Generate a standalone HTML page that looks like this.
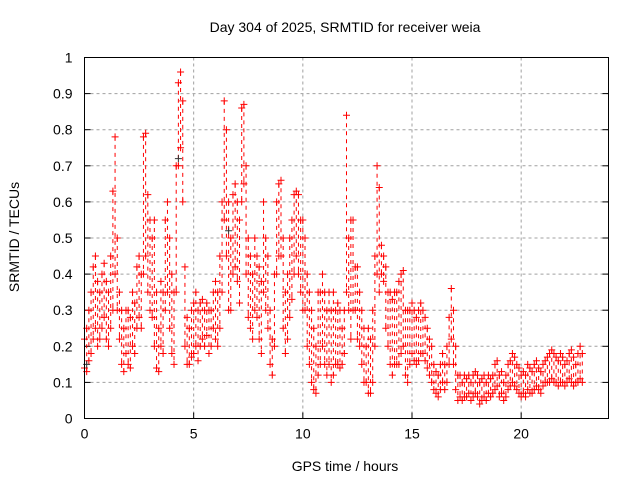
<!DOCTYPE html>
<html><head><meta charset="utf-8"><style>
html,body{margin:0;padding:0;background:#fff}
svg{display:block;font-family:"Liberation Sans",sans-serif}
</style></head><body>
<svg id="chart" width="640" height="480" viewBox="0 0 640 480" xmlns="http://www.w3.org/2000/svg">
<rect width="640" height="480" fill="#fff"/>
<text x="345" y="32" font-size="14" text-anchor="middle">Day 304 of 2025, SRMTID for receiver weia</text>
<text transform="translate(19,237) rotate(-90)" font-size="14" text-anchor="middle">SRMTID / TECUs</text>
<text x="345" y="471" font-size="14" text-anchor="middle">GPS time / hours</text>
<g id="grid"></g>
<g id="ticks"></g>
<g id="ranges"></g>
<g id="points"></g>
<rect x="84.5" y="57.5" width="524" height="361" fill="none" stroke="#000" stroke-width="1"/>
</svg>
<script>
const xTicks=[0,5,10,15,20];
const yTicks=[0,0.1,0.2,0.3,0.4,0.5,0.6,0.7,0.8,0.9,1];
const yTickLabels=["0","0.1","0.2","0.3","0.4","0.5","0.6","0.7","0.8","0.9","1"];
const hiVals=[.22,.25,.3,.35,.42,.45,.38,.35,.4,.43,
.38,.35,.45,.63,.78,.5,.35,.3,.25,.3,
.3,.28,.35,.32,.42,.45,.4,.78,.79,.62,
.55,.5,.55,.35,.25,.38,.35,.55,.6,.5,
.4,.35,.7,.93,.96,.88,.42,.28,.25,.3,
.32,.35,.3,.32,.33,.3,.32,.3,.3,.35,
.38,.35,.45,.6,.88,.8,.6,.5,.62,.65,
.6,.55,.86,.87,.7,.5,.45,.4,.5,.45,
.42,.38,.6,.5,.45,.3,.22,.4,.6,.65,
.66,.5,.35,.4,.5,.55,.62,.63,.62,.55,
.55,.5,.4,.35,.3,.25,.2,.35,.35,.4,
.35,.3,.35,.3,.35,.3,.32,.3,.25,.3,
.84,.5,.55,.55,.42,.42,.35,.3,.25,.2,
.25,.22,.3,.45,.7,.64,.48,.45,.42,.35,
.35,.33,.35,.35,.38,.4,.41,.3,.3,.3,
.32,.3,.28,.3,.32,.3,.28,.25,.22,.2,
.15,.13,.12,.15,.18,.15,.2,.28,.36,.3,
.2,.12,.12,.1,.12,.11,.12,.1,.12,.13,
.12,.1,.11,.12,.1,.12,.11,.12,.15,.16,
.12,.13,.1,.12,.15,.16,.18,.17,.15,.14,
.12,.13,.12,.15,.14,.13,.15,.16,.14,.13,
.15,.16,.17,.18,.19,.18,.17,.16,.18,.17,
.15,.16,.18,.19,.17,.15,.18,.2,.18];
const loVals=[.14,.13,.16,.18,.22,.25,.2,.22,.25,.28,
.22,.2,.25,.3,.4,.3,.22,.15,.13,.18,
.15,.14,.2,.18,.25,.28,.25,.4,.45,.35,
.3,.28,.2,.14,.13,.2,.18,.3,.35,.25,
.18,.15,.35,.7,.75,.6,.2,.15,.15,.17,
.18,.2,.16,.2,.22,.2,.23,.18,.2,.25,
.22,.2,.25,.35,.55,.45,.3,.3,.4,.42,
.38,.32,.6,.65,.4,.28,.25,.22,.3,.28,
.22,.18,.35,.3,.25,.15,.12,.2,.4,.45,
.45,.25,.18,.22,.28,.33,.4,.45,.4,.35,
.3,.3,.2,.15,.1,.08,.07,.12,.15,.2,
.15,.12,.15,.1,.12,.15,.15,.14,.15,.18,
.35,.3,.22,.3,.3,.22,.2,.15,.1,.1,
.07,.07,.1,.2,.4,.35,.4,.38,.25,.2,
.15,.12,.15,.15,.15,.18,.2,.12,.1,.15,
.18,.16,.15,.16,.18,.18,.16,.14,.12,.1,
.08,.07,.06,.08,.1,.08,.1,.15,.22,.15,
.08,.05,.06,.05,.06,.06,.07,.05,.06,.07,
.06,.04,.05,.06,.05,.07,.06,.07,.08,.09,
.06,.07,.05,.06,.08,.09,.1,.09,.08,.07,
.06,.07,.06,.08,.07,.07,.08,.09,.08,.07,
.09,.1,.1,.1,.11,.1,.1,.09,.1,.1,
.09,.1,.11,.1,.09,.1,.1,.11,.1];
const blackTimes=[4.3,6.6,0.1];
const blackVals=[0.72,0.52,0.15];

const X0=84.5,X1=608.5,Y0=418.5,Y1=57.5;
const xs=v=>X0+(v/24)*(X1-X0);
const ys=v=>Y0-v*(Y0-Y1);
const NS="http://www.w3.org/2000/svg";
function mk(tag,attrs,parent){const e=document.createElementNS(NS,tag);for(const k in attrs)e.setAttribute(k,attrs[k]);parent.appendChild(e);return e;}
const grid=document.getElementById('grid'),ticks=document.getElementById('ticks');
xTicks.forEach(t=>{
  const x=xs(t);
  if(t>0){const g=mk('line',{x1:x,x2:x,y1:Y1,y2:Y0,stroke:'#a0a0a0','stroke-dasharray':'3,3'},grid);
  
  }
  const tk=mk('line',{x1:x,x2:x,y1:Y0,y2:Y0-6,stroke:'#000'},grid);
  
  
  const tx=mk('text',{x:x,y:Y0+20,'font-size':14,'text-anchor':'middle'},ticks);tx.textContent=String(t);
  
  
});
yTicks.forEach((t,i)=>{
  const y=ys(t);
  if(t>0&&t<1){const g=mk('line',{x1:X0,x2:X1,y1:y,y2:y,stroke:'#a0a0a0','stroke-dasharray':'3,3'},grid);
  
  }
  const tk=mk('line',{x1:X0,x2:X0+6,y1:y,y2:y,stroke:'#000'},grid);
  
  
  const tk2=mk('line',{x1:X1,x2:X1-6,y1:y,y2:y,stroke:'#000'},grid);
  
  
  const tx=mk('text',{x:X0-12,y:y+5,'font-size':14,'text-anchor':'end'},ticks);tx.textContent=yTickLabels[i];
  
  
});
const ranges=document.getElementById('ranges'),pts=document.getElementById('points');
function plus(t,v,col){
  const x=xs(t),y=ys(v);
  const p=mk('path',{d:`M${x-3.5},${y}H${x+3.5}M${x},${y-3.5}V${y+3.5}`,stroke:col,'stroke-width':1,fill:'none'},pts);
  
  
}
hiVals.forEach((h,i)=>{
  const t=i*0.1,l=loVals[i];
  const r=mk('line',{x1:xs(t),x2:xs(t),y1:ys(h),y2:ys(l),stroke:'#f00','stroke-width':1,'stroke-dasharray':'4,4'},ranges);
  
  
  plus(t,h,'#f00');plus(t,l,'#f00');
});
blackTimes.forEach((t,i)=>plus(t,blackVals[i],'#333'));
</script>
</body></html>
